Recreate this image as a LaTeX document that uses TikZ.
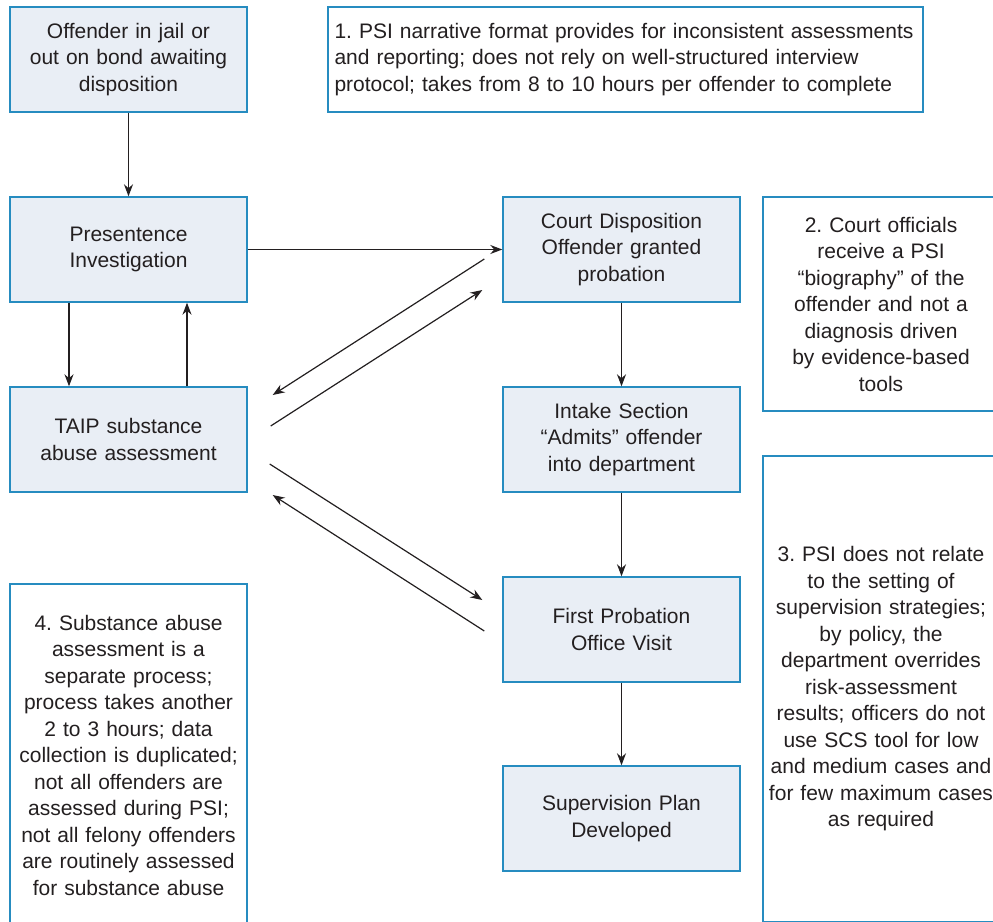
\documentclass[tikz,border=0pt]{standalone}
\usepackage{fontspec}
\setmainfont{Liberation Sans}
\usetikzlibrary{arrows.meta}
\definecolor{boxblue}{RGB}{38,140,192}
\definecolor{boxfill}{RGB}{233,238,245}
\definecolor{txt}{RGB}{35,31,32}
\frenchspacing
\hyphenpenalty=10000\relax
\begin{document}
\begin{tikzpicture}[x=1pt,y=-1pt,
  base/.style={draw=boxblue, line width=1.4pt, inner sep=0pt, align=center, text=txt,
    font=\fontsize{21}{26.5}\selectfont},
  stepbox/.style={base, fill=boxfill, minimum width=237pt, minimum height=105pt, text width=228pt},
  notebox/.style={base, fill=white},
  arr/.style={draw=txt, line width=1.2pt, -{Stealth[length=12pt,width=9pt]}}
]
\clip (0,0) rectangle (993,921);
\fill[white] (0,0) rectangle (993,921);

% process boxes
\node[stepbox] (a) at (128.5,59.5) {Offender in jail or\\out on bond awaiting\\disposition};
\node[stepbox] (p) at (128.5,249.5) {Presentence\\Investigation};
\node[stepbox] (t) at (128.5,439.5) {TAIP substance\\abuse assessment};
\node[stepbox] (c) at (621.5,249.5) {Court Disposition\\Offender granted\\probation};
\node[stepbox] (i) at (621.5,439.5) {Intake Section\\``Admits'' offender\\into department};
\node[stepbox] (f) at (621.5,629.5) {First Probation\\Office Visit};
\node[stepbox] (s) at (621.5,818.5) {Supervision Plan\\Developed};

% notes
\node[notebox, minimum width=595pt, minimum height=105pt, text width=582pt, align=left] (n1) at (625.5,59.5)
  {1. PSI narrative format provides for inconsistent assessments\\and reporting; does not rely on well-structured interview\\protocol; takes from 8 to 10 hours per offender to complete};
\node[notebox, minimum width=236pt, minimum height=214pt, text width=230pt] (n2) at (881,304)
  {2. Court officials\\receive a PSI\\``biography'' of the\\offender and not a\\diagnosis driven\\by evidence-based\\tools};
\node[notebox, minimum width=236pt, minimum height=466pt, text width=232pt] (n3) at (881,689)
  {3. PSI does not relate\\to the setting of\\supervision strategies;\\by policy, the\\department overrides\\risk-assessment\\results; officers do not\\use SCS tool for low\\and medium cases and\\for few maximum cases\\as required};
\node[notebox, minimum width=237pt, minimum height=342pt, text width=230pt] (n4) at (128.5,755)
  {4. Substance abuse\\assessment is a\\separate process;\\process takes another\\2 to 3 hours; data\\collection is duplicated;\\not all offenders are\\assessed during PSI;\\not all felony offenders\\are routinely assessed\\for substance abuse};

% vertical connectors
\draw[arr] (a.south) -- (p.north);
\draw[arr] ([xshift=-59.5pt]p.south) -- ([xshift=-59.5pt]t.north);
\draw[arr] ([xshift=58.5pt]t.north) -- ([xshift=58.5pt]p.south);
\draw[arr] (p.east) -- (c.west);
\draw[arr] (c.south) -- (i.north);
\draw[arr] (i.south) -- (f.north);
\draw[arr] (f.south) -- (s.north);

% diagonal connectors
\coordinate (ct1) at ([shift={(-18,9.5)}]c.west);
\coordinate (tc1) at ([shift={(25,-44.5)}]t.east);
\coordinate (tc2) at ([shift={(23,-13.5)}]t.east);
\coordinate (ct2) at ([shift={(-20,40.5)}]c.west);
\coordinate (tf1) at ([shift={(22,24.5)}]t.east);
\coordinate (ft1) at ([shift={(-20,-29.5)}]f.west);
\coordinate (ft2) at ([shift={(-18,1.5)}]f.west);
\coordinate (tf2) at ([shift={(25,55.5)}]t.east);
\draw[arr] (ct1) -- (tc1);
\draw[arr] (tc2) -- (ct2);
\draw[arr] (tf1) -- (ft1);
\draw[arr] (ft2) -- (tf2);
\end{tikzpicture}
\end{document}
